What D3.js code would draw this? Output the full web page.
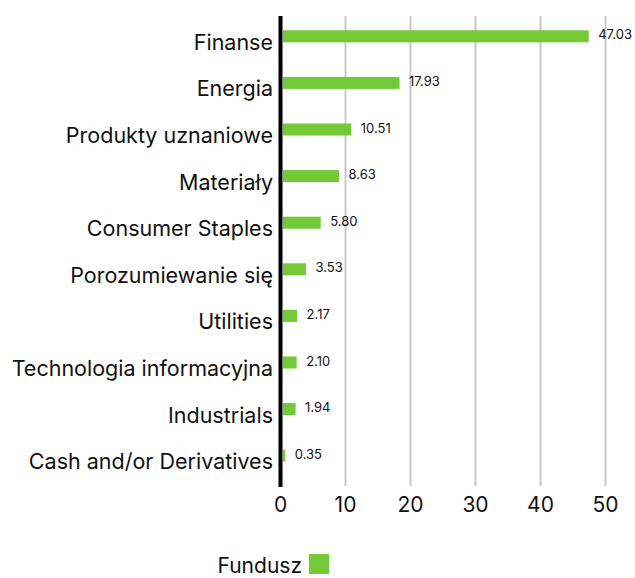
<!DOCTYPE html>
<html>
<head>
<meta charset="utf-8">
<script src="https://cdn.jsdelivr.net/npm/d3@7"></script>
<style>
  body { margin: 0; background: #fff; }
  svg text { font-family: "Inter", "Noto Sans", sans-serif; fill: #111; }
</style>
</head>
<body>
<div id="chart"></div>
<script>
var categories = ["Finanse", "Energia", "Produkty uznaniowe", "Materiały", "Consumer Staples",
  "Porozumiewanie się", "Utilities", "Technologia informacyjna", "Industrials", "Cash and/or Derivatives"];
var fundValues = [47.03, 17.93, 10.51, 8.63, 5.80, 3.53, 2.17, 2.10, 1.94, 0.35];
var xTicks = [0, 10, 20, 30, 40, 50];
var seriesName = "Fundusz";

var width = 635, height = 578;
var barColor = "#74c936";

var svg = d3.select("#chart").append("svg")
  .attr("width", width)
  .attr("height", height);

var x = d3.scaleLinear().domain([0, 50]).range([280.5, 605.5]);
var y = d3.scaleBand().domain(categories).range([13, 479]);

// grid
svg.append("g").selectAll("line")
  .data(xTicks.slice(1))
  .enter().append("line")
    .attr("x1", function(d) { return x(d); })
    .attr("x2", function(d) { return x(d); })
    .attr("y1", 16)
    .attr("y2", 486)
    .attr("stroke", "#c8c8c8")
    .attr("stroke-width", 2);

// bars
var barH = 12;
svg.append("g").selectAll("rect")
  .data(fundValues)
  .enter().append("rect")
    .attr("x", x(0) + 2.5)
    .attr("y", function(d, i) { return y(categories[i]) + y.bandwidth() / 2 - barH / 2; })
    .attr("width", function(d) { return x(d) - x(0); })
    .attr("height", barH)
    .attr("fill", barColor);

// value labels
svg.append("g").selectAll("text")
  .data(fundValues)
  .enter().append("text")
    .attr("x", function(d) { return x(d) + 12; })
    .attr("y", function(d, i) { return y(categories[i]) + y.bandwidth() / 2 + 3; })
    .style("font-size", "13px")
    .text(function(d) { return d.toFixed(2); });

// category labels
svg.append("g").selectAll("text")
  .data(categories)
  .enter().append("text")
    .attr("x", 273)
    .attr("y", function(d) { return y(d) + y.bandwidth() / 2 + 13.5; })
    .attr("text-anchor", "end")
    .style("font-size", "21.5px")
    .text(function(d) { return d; });

// y axis line
svg.append("line")
  .attr("x1", x(0)).attr("x2", x(0))
  .attr("y1", 16).attr("y2", 487)
  .attr("stroke", "#000")
  .attr("stroke-width", 4);

// x tick labels
svg.append("g").selectAll("text")
  .data(xTicks)
  .enter().append("text")
    .attr("x", function(d) { return x(d); })
    .attr("y", 512)
    .attr("text-anchor", "middle")
    .style("font-size", "21px")
    .text(function(d) { return d; });

// legend
var legend = svg.append("g");
legend.append("text")
  .attr("x", 302)
  .attr("y", 573)
  .attr("text-anchor", "end")
  .style("font-size", "21px")
  .text(seriesName);
legend.append("rect")
  .attr("x", 309)
  .attr("y", 554)
  .attr("width", 20)
  .attr("height", 20)
  .attr("fill", barColor);
</script>
</body>
</html>
